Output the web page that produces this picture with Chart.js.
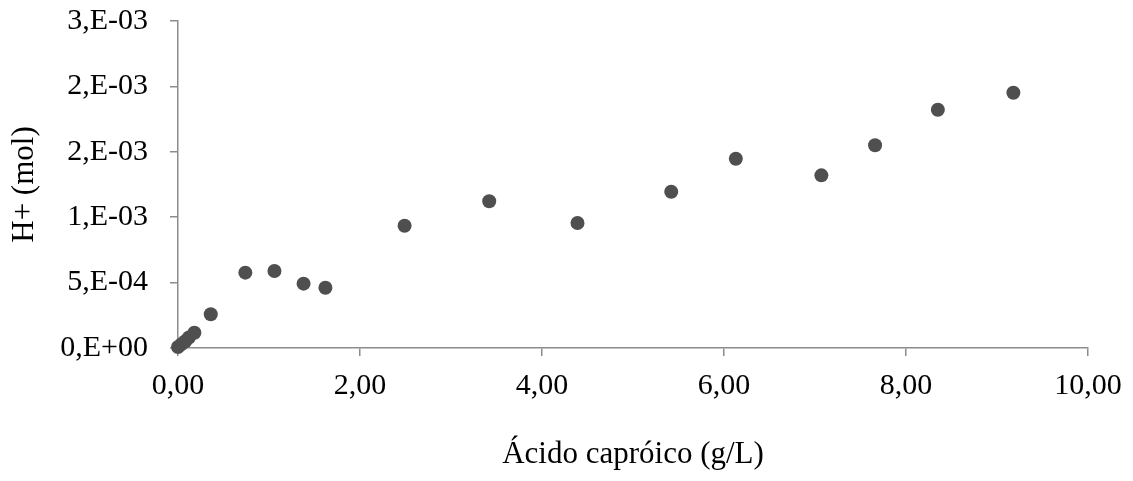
<!DOCTYPE html>
<html>
<head>
<meta charset="utf-8">
<script src="https://cdn.jsdelivr.net/npm/chart.js@4.4.1/dist/chart.umd.min.js"></script>
<style>
  html, body { margin: 0; padding: 0; background: #ffffff; }
  #wrap { width: 1133px; height: 481px; position: relative; }
</style>
</head>
<body>
<div id="wrap"><canvas id="c"></canvas></div>
<script>
// ---- data ----
const acidoCaproico = [0.00, 0.04, 0.08, 0.12, 0.18, 0.36, 0.74, 1.06, 1.38, 1.62, 2.49, 3.42, 4.39, 5.42, 6.13, 7.07, 7.66, 8.35, 9.18];
const hMol = [0.000008, 0.000030, 0.000052, 0.000080, 0.000117, 0.000258, 0.000576, 0.000589, 0.000492, 0.000461, 0.000935, 0.001122, 0.000956, 0.001195, 0.001447, 0.001320, 0.001550, 0.001822, 0.001952];
const xTickValues = [0, 2, 4, 6, 8, 10];
const xTickLabels = ['0,00', '2,00', '4,00', '6,00', '8,00', '10,00'];
const yTickValues = [0, 0.0005, 0.0010, 0.0015, 0.0020, 0.0025];
const yTickLabels = ['0,E+00', '5,E-04', '1,E-03', '2,E-03', '2,E-03', '3,E-03'];
const xTitle = 'Ácido capróico (g/L)';
const yTitle = 'H+ (mol)';

const points = acidoCaproico.map((x, i) => ({ x: x, y: hMol[i] }));
const FONT = "'Liberation Serif', 'Times New Roman', serif";
const AXIS = '#8c8c8c';

new Chart(document.getElementById('c'), {
  type: 'scatter',
  data: {
    datasets: [{
      data: points,
      pointRadius: 7,
      pointHoverRadius: 7,
      pointBackgroundColor: '#4f4f4f',
      pointBorderWidth: 0,
      borderWidth: 0,
      showLine: false,
      clip: false
    }]
  },
  options: {
    responsive: true,
    maintainAspectRatio: false,
    animation: false,
    events: [],
    layout: { padding: { top: 21, right: 45, left: 0, bottom: 0 } },
    plugins: { legend: { display: false }, tooltip: { enabled: false } },
    scales: {
      x: {
        type: 'linear',
        min: 0, max: 10,
        afterBuildTicks: (s) => { s.ticks = xTickValues.map(v => ({ value: v })); },
        afterFit: (s) => { s.height = 133; s.paddingLeft = 0; s.paddingRight = 0; },
        grid: { display: true, drawOnChartArea: false, drawTicks: true, tickLength: 8, color: AXIS, lineWidth: 1.5 },
        border: { display: true, color: AXIS, width: 1.5 },
        ticks: {
          color: '#000',
          padding: 12,
          maxRotation: 0,
          font: { family: FONT, size: 30 },
          callback: (v, i) => xTickLabels[i]
        },
        title: {
          display: true, text: xTitle, color: '#000',
          font: { family: FONT, size: 31 },
          padding: { top: 0, bottom: 8 }
        }
      },
      y: {
        type: 'linear',
        min: 0, max: 0.0025,
        afterBuildTicks: (s) => { s.ticks = yTickValues.map(v => ({ value: v })); },
        afterFit: (s) => { s.width = 178; s.paddingTop = 0; s.paddingBottom = 0; },
        grid: { display: true, drawOnChartArea: false, drawTicks: true, tickLength: 8, color: AXIS, lineWidth: 1.5 },
        border: { display: true, color: AXIS, width: 1.5 },
        ticks: {
          color: '#000',
          padding: 22,
          font: { family: FONT, size: 30 },
          callback: (v, i) => yTickLabels[i]
        },
        title: {
          display: true, text: yTitle, color: '#000',
          font: { family: FONT, size: 31 },
          padding: { top: 6, bottom: 0 }
        }
      }
    }
  }
});
</script>
</body>
</html>
